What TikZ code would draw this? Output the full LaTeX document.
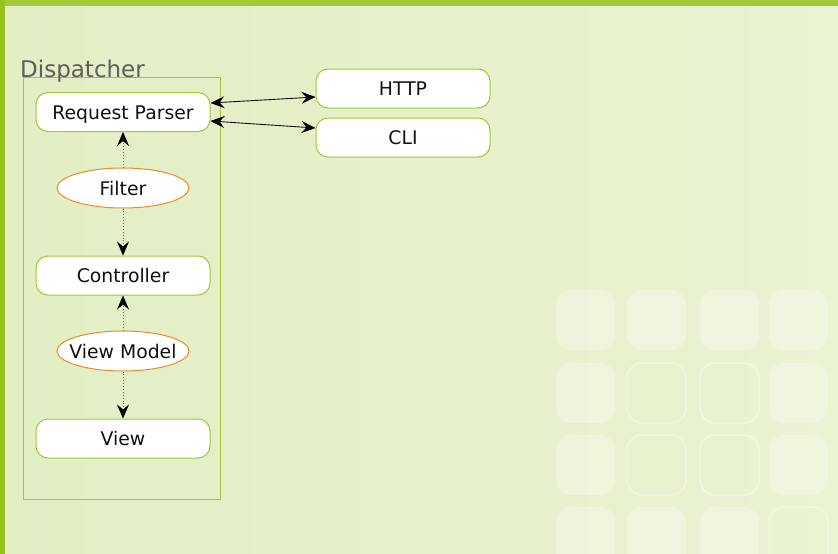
\documentclass[tikz,border=0pt]{standalone}
\usepackage{fontspec}
\setmainfont{DejaVu Sans}
\usetikzlibrary{arrows.meta,shapes.geometric}
\definecolor{bgl}{HTML}{E2EEC4}
\definecolor{bgr}{HTML}{EAF3D2}
\definecolor{barTop}{HTML}{A5C83A}
\definecolor{barLeft}{HTML}{97C11C}
\definecolor{boxline}{HTML}{A3C834}
\definecolor{ovline}{HTML}{F08A24}
\definecolor{txt}{HTML}{111111}
\definecolor{disp}{HTML}{5E5E5E}
\tikzset{
  rbox/.style={rectangle, rounded corners=12pt, draw=boxline, fill=white, line width=1pt,
    minimum width=174pt, minimum height=39pt, inner sep=0pt, text=txt,
    text height=14pt, text depth=0pt,
    font=\fontsize{18.8}{21}\selectfont},
  oval/.style={ellipse, draw=ovline, fill=white, line width=1pt,
    minimum width=132pt, minimum height=40pt, inner sep=0pt, text=txt,
    text height=14pt, text depth=0pt,
    font=\fontsize{18.8}{21}\selectfont},
  tipS/.tip={Stealth[length=14pt,width=12pt,inset=5pt,color=black]},
  dbl/.style={tipS-tipS, line width=0.9pt, draw=txt},
  dots/.style={-tipS, draw=gray!80!black, dotted, line width=0.9pt},
  deco/.style={rounded corners=15pt, fill=white, fill opacity=0.28},
  decoline/.style={rounded corners=15pt, draw=white, draw opacity=0.35, line width=1.5pt}
}
\begin{document}
\begin{tikzpicture}[x=1pt,y=-1pt]
\useasboundingbox (0,0) rectangle (838,554);
\shade[left color=bgl, right color=bgr] (0,0) rectangle (838,554);
% decorative squares
\foreach \x in {556,627,700,769}{
  \foreach \y in {290,363,435,507}{
    \pgfmathtruncatemacro{\kind}{
      ((\x==627 || \x==700) && (\y==363 || \y==435)) || (\x==769 && \y==507) ? 1 : 0}
    \ifnum\kind=1
      \draw[decoline] (\x,\y) rectangle ++(59,60);
    \else
      \fill[deco] (\x,\y) rectangle ++(59,60);
    \fi
  }
}
\fill[barTop] (0,0) rectangle (838,6);
\fill[barLeft] (0,0) rectangle (5,554);
% dispatcher container
\node[draw=boxline, line width=1pt, minimum width=197pt, minimum height=422pt, inner sep=0pt] (dispatch) at (121.5,288) {};
\node[anchor=base west, text=disp, font=\fontsize{23}{25}\selectfont, inner sep=0pt] (dlabel) at (20,77) {Dispatcher};
% nodes
\node[rbox] (rp) at (123,112) {Request Parser};
\node[oval] (filter) at (123,188) {\makebox[0pt]{Filter}};
\node[rbox] (ctrl) at (123,275.5) {Controller};
\node[oval] (vm) at (123,351) {\makebox[0pt]{View Model}};
\node[rbox] (view) at (123,438.5) {View};
\node[rbox] (http) at (403,88.5) {HTTP};
\node[rbox] (cli) at (403,137.5) {CLI};
% connectors
\draw[dbl] ([yshift=9pt]rp.east) -- ([yshift=-8.5pt]http.west);
\draw[dbl] ([yshift=-9pt]rp.east) -- ([yshift=9.5pt]cli.west);
\draw[dots] (filter.north) -- (rp.south);
\draw[dots] (filter.south) -- (ctrl.north);
\draw[dots] (vm.north) -- (ctrl.south);
\draw[dots] (vm.south) -- (view.north);
\end{tikzpicture}
\end{document}
